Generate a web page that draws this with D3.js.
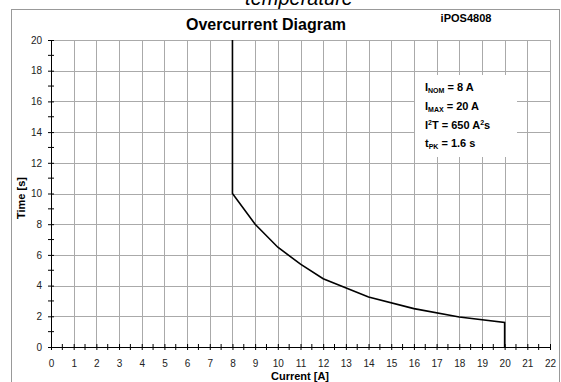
<!DOCTYPE html>
<html>
<head>
<meta charset="utf-8">
<script src="https://cdn.jsdelivr.net/npm/d3@7"></script>
<style>
  body { margin: 0; background: #fff; }
  svg { font-family: "Liberation Sans", Arial, sans-serif; }
</style>
</head>
<body>
<div id="chart"></div>
<script>
// curve
var current = [8, 8, 9, 10, 11, 12, 14, 16, 18, 20, 20];
var time = [20, 10, 8.0, 6.5, 5.4, 4.45, 3.25, 2.5, 1.95, 1.6, 0];

var xTicks = d3.range(0, 23, 1);
var yTicks = d3.range(0, 21, 2);

var W = 561, H = 382;
var margin = {top: 40, right: 11, bottom: 35, left: 51};
var width = W - margin.left - margin.right,
    height = H - margin.top - margin.bottom;

var svg = d3.select("#chart").append("svg")
    .attr("width", W)
    .attr("height", H);

// outer frame
svg.append("rect")
    .attr("x", 11.5).attr("y", 9.5)
    .attr("width", 548).attr("height", 400)
    .attr("fill", "none")
    .attr("stroke", "#999")
    .attr("stroke-width", 1);

// cut-off page heading
svg.append("text")
    .attr("x", 299).attr("y", 5)
    .attr("text-anchor", "middle")
    .attr("font-size", 20)
    .attr("font-style", "italic")
    .text("temperature");

svg.append("text")
    .attr("x", 266).attr("y", 30)
    .attr("text-anchor", "middle")
    .attr("font-size", 16)
    .attr("font-weight", "bold")
    .text("Overcurrent Diagram");

svg.append("text")
    .attr("x", 466).attr("y", 22)
    .attr("text-anchor", "middle")
    .attr("font-size", 11)
    .attr("font-weight", "bold")
    .text("iPOS4808");

var g = svg.append("g")
    .attr("transform", "translate(" + margin.left + "," + margin.top + ")");

var x = d3.scaleLinear().domain([0, 22]).range([0, width]);
var y = d3.scaleLinear().domain([0, 20]).range([height, 0]);

// grid
g.append("g").selectAll("line")
    .data(xTicks.slice(1))
    .enter().append("line")
    .attr("x1", function(d) { return Math.round(x(d)) + 0.5; })
    .attr("x2", function(d) { return Math.round(x(d)) + 0.5; })
    .attr("y1", 0).attr("y2", height)
    .attr("stroke", "#aaa");

g.append("g").selectAll("line")
    .data(yTicks.slice(1))
    .enter().append("line")
    .attr("y1", function(d) { return Math.round(y(d)) + 0.5; })
    .attr("y2", function(d) { return Math.round(y(d)) + 0.5; })
    .attr("x1", 0).attr("x2", width)
    .attr("stroke", "#aaa");

// info box
var box = svg.append("g");
box.append("rect")
    .attr("x", 415).attr("y", 75)
    .attr("width", 102).attr("height", 82)
    .attr("fill", "#fff");

function infoLine(yy, parts) {
  var t = box.append("text")
      .attr("x", 425).attr("y", yy)
      .attr("font-size", 11)
      .attr("font-weight", "bold")
      .attr("fill", "#000");
  parts.forEach(function(p) {
    var s = t.append("tspan").text(p[0]);
    if (p[1] === "sub") s.attr("font-size", 7).attr("dy", 2);
    else if (p[1] === "sup") s.attr("font-size", 7).attr("dy", -4);
    else if (p[1] === "subback") s.attr("dy", -2);
    else if (p[1] === "supback") s.attr("dy", 4);
  });
}
infoLine(91, [["I"], ["NOM", "sub"], [" = 8 A", "subback"]]);
infoLine(110, [["I"], ["MAX", "sub"], [" = 20 A", "subback"]]);
infoLine(129, [["I"], ["2", "sup"], ["T = 650 A", "supback"], ["2", "sup"], ["s", "supback"]]);
infoLine(147, [["t"], ["PK", "sub"], [" = 1.6 s", "subback"]]);

// curve
var pts = current.map(function(c, i) { return [c, time[i]]; });
g.append("path")
    .datum(pts)
    .attr("fill", "none")
    .attr("stroke", "#000")
    .attr("stroke-width", 1.6)
    .attr("d", d3.line()
        .x(function(d) { return x(d[0]); })
        .y(function(d) { return y(d[1]); }));

// axes
var xAxis = d3.axisBottom(x).tickValues(xTicks).tickSize(3).tickSizeOuter(0).tickPadding(10);
var yAxis = d3.axisLeft(y).tickValues(yTicks).tickSize(3).tickSizeOuter(0).tickPadding(6);

var gx = g.append("g")
    .attr("transform", "translate(0," + height + ")")
    .call(xAxis);
var gy = g.append("g").call(yAxis);

[gx, gy].forEach(function(a) {
  a.select(".domain").attr("stroke", "#000");
  a.selectAll(".tick line").attr("stroke", "#000");
  a.selectAll("text").attr("font-size", 10).attr("fill", "#222")
      .attr("font-family", "Liberation Sans, Arial, sans-serif");
});
gx.selectAll(".tick line").attr("y1", -3);
gy.selectAll(".tick line").attr("x1", 3);

// minor ticks
g.append("g").selectAll("line")
    .data(d3.range(0.5, 22, 1))
    .enter().append("line")
    .attr("x1", function(d) { return x(d); })
    .attr("x2", function(d) { return x(d); })
    .attr("y1", height - 3).attr("y2", height + 3)
    .attr("stroke", "#000");
g.append("g").selectAll("line")
    .data(d3.range(1, 20, 2))
    .enter().append("line")
    .attr("y1", function(d) { return y(d); })
    .attr("y2", function(d) { return y(d); })
    .attr("x1", -3).attr("x2", 3)
    .attr("stroke", "#000");

// axis titles
svg.append("text")
    .attr("transform", "translate(25,198) rotate(-90)")
    .attr("text-anchor", "middle")
    .attr("font-size", 11)
    .attr("font-weight", "bold")
    .text("Time [s]");

svg.append("text")
    .attr("x", 300).attr("y", 380)
    .attr("text-anchor", "middle")
    .attr("font-size", 11)
    .attr("font-weight", "bold")
    .text("Current [A]");
</script>
</body>
</html>
